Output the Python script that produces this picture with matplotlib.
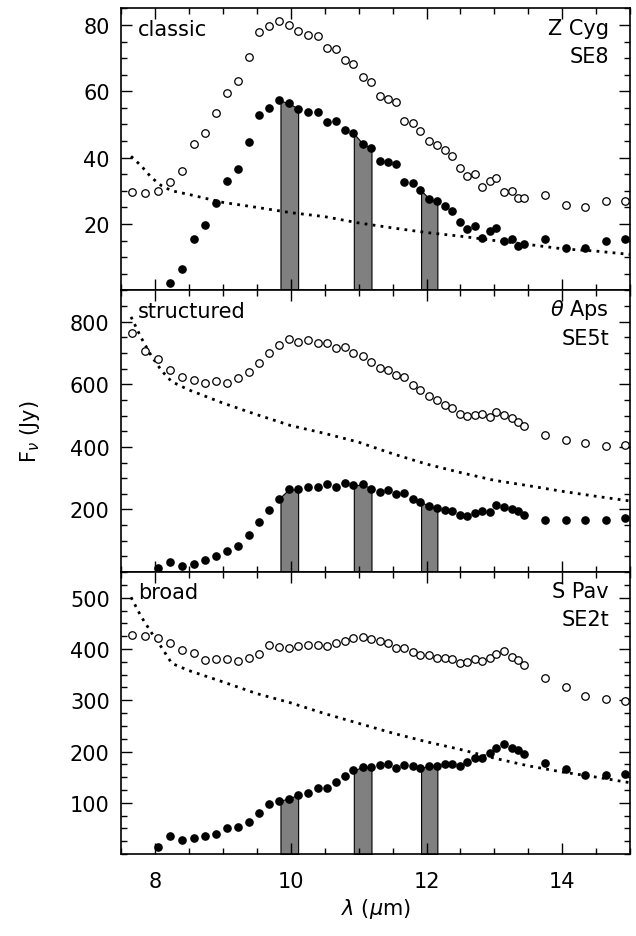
#!/usr/bin/env python3
"""
Three-panel silicate emission spectra (classic / structured / broad)
with dust-free continuum (dotted) and shaded 10, 11, 12 um bands.

Outputs: out.png
"""

import numpy as np
import matplotlib
matplotlib.use("Agg")
import matplotlib.pyplot as plt
from matplotlib.ticker import MultipleLocator

# Wavelength grid shared by the spectra (um)
wave = [7.67, 7.86, 8.04, 8.22, 8.40, 8.57, 8.74, 8.90, 9.06, 9.22,
        9.39, 9.53, 9.68, 9.83, 9.97, 10.11, 10.26, 10.40, 10.53, 10.67,
        10.80, 10.92, 11.06, 11.19, 11.31, 11.43, 11.55, 11.67, 11.80, 11.91,
        12.04, 12.15, 12.27, 12.38, 12.49, 12.60, 12.72, 12.82, 12.93, 13.03,
        13.14, 13.26, 13.35, 13.43, 13.74, 14.05, 14.34, 14.64, 14.92]

# Z Cyg (classic, SE8)
zcyg_total = [29.6, 29.3, 30.0, 32.5, 36.1, 44.2, 47.5, 53.4, 59.6, 63.0,
              70.4, 77.8, 79.8, 81.1, 80.1, 78.1, 77.1, 76.6, 73.0, 72.7,
              69.4, 68.2, 64.4, 62.9, 58.6, 57.8, 56.9, 51.0, 50.3, 48.0,
              44.9, 43.7, 42.2, 40.6, 36.9, 34.5, 35.2, 31.0, 33.0, 33.8,
              29.5, 30.0, 27.8, 27.8, 28.8, 25.7, 25.1, 26.8, 26.8]
zcyg_dust = [2.2, 6.4, 15.4, 19.7, 26.3, 33.0, 36.7, 44.8, 52.8, 54.9,
             57.3, 56.4, 54.8, 53.8, 53.9, 50.7, 50.9, 48.2, 47.5, 44.2,
             42.9, 39.0, 38.7, 38.1, 32.6, 32.3, 30.3, 27.6, 26.8, 25.5,
             24.0, 20.7, 18.5, 19.4, 15.7, 18.0, 18.9, 14.8, 15.5, 13.4,
             13.8, 15.4, 12.8, 12.6, 14.9, 15.4]

# theta Aps (structured, SE5t)
taps_total = [762, 706, 679, 646, 623, 615, 603, 609, 604, 619,
              639, 668, 701, 724, 743, 735, 740, 730, 732, 716,
              718, 701, 690, 671, 652, 646, 628, 623, 596, 582,
              562, 548, 534, 524, 506, 498, 502, 504, 496, 511,
              502, 492, 479, 465, 438, 422, 412, 403, 405]
taps_dust = [13, 32, 18, 27, 40, 53, 66, 84, 120, 160,
             198, 235, 264, 264, 272, 272, 280, 272, 286, 277,
             280, 267, 257, 261, 251, 254, 232, 225, 211, 205,
             197, 195, 181, 179, 189, 195, 193, 213, 207, 200,
             195, 182, 168, 166, 165, 166, 173]

# S Pav (broad, SE2t)
spav_total = [428, 426, 421, 411, 398, 392, 378, 380, 380, 377,
              382, 390, 407, 403, 401, 405, 407, 408, 405, 411,
              416, 422, 424, 419, 416, 411, 401, 401, 395, 388,
              388, 383, 383, 380, 372, 374, 380, 377, 383, 390,
              396, 385, 378, 368, 344, 326, 308, 303, 298]
spav_dust = [14, 35, 27, 32, 35, 40, 51, 52, 63, 80,
             97, 104, 108, 116, 119, 128, 129, 140, 152, 163,
             170, 170, 173, 175, 168, 173, 172, 168, 172, 172,
             175, 175, 172, 179, 188, 188, 198, 206, 214, 206,
             203, 195, 178, 166, 155, 155, 157]

# Stellar continuum (dotted)
cont_wave = [7.65, 7.8, 7.95, 8.1, 8.25, 8.5, 9.0, 9.5, 10.0, 10.5,
             11.0, 11.5, 12.0, 12.5, 13.0, 13.5, 14.0, 14.5, 15.0]
zcyg_cont = [40.4, 37.5, 34.0, 31.5, 30.0, 28.9, 26.5, 25.0, 23.4, 22.2,
             20.3, 18.8, 17.4, 16.3, 15.0, 13.8, 12.5, 11.8, 10.8]
taps_cont = [815, 748, 690, 643, 608, 582, 540, 503, 468, 443,
             415, 378, 345, 318, 293, 276, 258, 242, 227]
spav_cont = [501, 463, 432, 403, 372, 358, 336, 313, 295, 274,
             255, 236, 219, 204, 187, 172, 160, 150, 139]

# Band windows shaded under the dust spectrum (um)
bands = [(9.85, 10.11), (10.93, 11.19), (11.92, 12.16)]

panels = [
    ("classic", "Z Cyg", "SE8", zcyg_total, zcyg_dust, 3, zcyg_cont, 85, 20, 5),
    ("structured", r"$\theta$ Aps", "SE5t", taps_total, taps_dust, 2, taps_cont, 900, 200, 50),
    ("broad", "S Pav", "SE2t", spav_total, spav_dust, 2, spav_cont, 550, 100, 25),
]


def main():
    plt.rcParams["font.family"] = ["DejaVu Sans"]
    plt.rcParams["mathtext.fontset"] = "dejavusans"

    fig, axes = plt.subplots(3, 1, figsize=(6.36, 9.37), dpi=100, sharex=True,
                             facecolor="white")
    fig.subplots_adjust(left=0.190, right=0.991, top=0.990, bottom=0.0875,
                        hspace=0)

    x_all = np.array(wave)
    for ax, (cls, star, sclass, total, dust, start, cont, ymax, major, minor) in zip(axes, panels):
        xd = x_all[start:]
        yd = np.array(dust, dtype=float)

        # shaded bands under the dust spectrum
        for lo, hi in bands:
            xb = np.linspace(lo, hi, 30)
            yb = np.interp(xb, xd, yd)
            ax.fill_between(xb, 0, yb, facecolor="0.5", edgecolor="black",
                            linewidth=0.8, zorder=1)

        # continuum
        ax.plot(cont_wave, cont, color="black", linewidth=2.0,
                linestyle=(0, (1, 1.9)), dash_capstyle="butt", zorder=2)

        # total spectrum (open) and dust spectrum (filled)
        ax.plot(x_all, total, linestyle="none", marker="o", markersize=5.4,
                markerfacecolor="white", markeredgecolor="black",
                markeredgewidth=0.9, zorder=3)
        ax.plot(xd, yd, linestyle="none", marker="o", markersize=5.2,
                markerfacecolor="black", markeredgecolor="black", zorder=4)

        ax.set_xlim(7.5, 15.0)
        ax.set_ylim(0, ymax)
        ax.yaxis.set_major_locator(MultipleLocator(major))
        ax.yaxis.set_minor_locator(MultipleLocator(minor))
        ax.xaxis.set_major_locator(MultipleLocator(2))
        ax.xaxis.set_minor_locator(MultipleLocator(0.5))

        ax.tick_params(which="both", direction="in", top=True, right=True,
                       labelsize=15, width=1.0)
        ax.tick_params(axis="y", pad=8)
        ax.tick_params(axis="x", pad=12)
        ax.tick_params(which="major", length=8)
        ax.tick_params(which="minor", length=4)
        for sp in ax.spines.values():
            sp.set_linewidth(1.2)

        # no zero label, so stacked panels do not collide
        ax.set_yticks(np.arange(major, ymax, major))

        ax.text(0.033, 0.928, cls, transform=ax.transAxes, fontsize=15,
                ha="left", va="center")
        ax.text(0.958, 0.932, star, transform=ax.transAxes, fontsize=15,
                ha="right", va="center")
        ax.text(0.958, 0.832, sclass, transform=ax.transAxes, fontsize=15,
                ha="right", va="center")

    axes[-1].set_xlabel(r"$\lambda$ ($\mu$m)", fontsize=15, labelpad=4)
    fig.text(30 / 636, 1 - 432 / 937, r"F$_\nu$ (Jy)", rotation=90,
             fontsize=15, ha="center", va="center")

    fig.savefig("out.png", dpi=100, facecolor="white")
    plt.close(fig)


if __name__ == "__main__":
    main()
